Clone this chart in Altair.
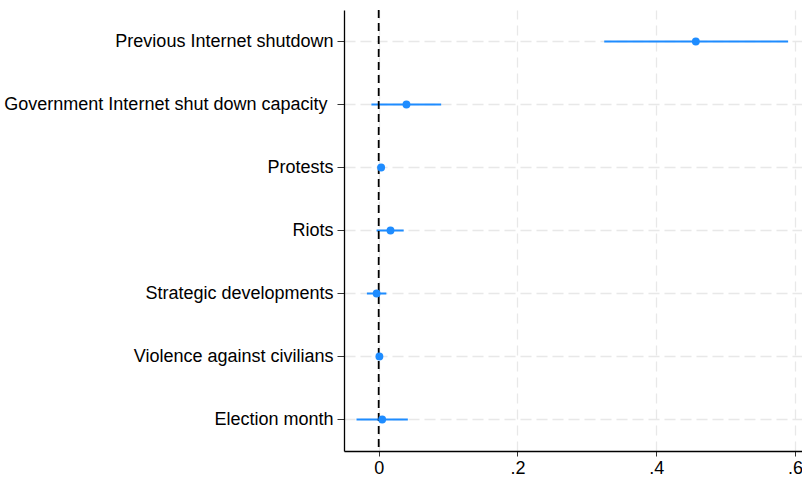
import altair as alt
import pandas as pd

# Coefficient estimates with 95% confidence intervals
labels = [
    "Previous Internet shutdown",
    "Government Internet shut down capacity",
    "Protests",
    "Riots",
    "Strategic developments",
    "Violence against civilians",
    "Election month",
]
estimates = [0.457, 0.040, 0.0035, 0.017, -0.003, 0.001, 0.005]
ci_low = [0.325, -0.0105, 0.0005, -0.003, -0.017, -0.002, -0.032]
ci_high = [0.590, 0.090, 0.0065, 0.036, 0.011, 0.004, 0.042]

df = pd.DataFrame({"label": labels, "est": estimates, "lo": ci_low, "hi": ci_high})
zero = pd.DataFrame({"x": [0.0]})

BLUE = "#1E8CFF"
FONT = "Liberation Sans"

x_scale = alt.Scale(domain=[-0.05, 0.61], nice=False, zero=False)
y_scale = alt.Scale(paddingInner=0, paddingOuter=0)

y_enc = alt.Y(
    "label:N",
    sort=None,
    scale=y_scale,
    axis=alt.Axis(
        title=None,
        labelFontSize=18,
        labelFont=FONT,
        labelColor="black",
        labelPadding={
            "condition": {"test": "datum.value == 'Government Internet shut down capacity'", "value": 10},
            "value": 4,
        },
        tickSize=7,
        tickColor="#333333",
        domainColor="black",
        domainWidth=1.3,
        grid=True,
        gridColor="#e8e8e8",
        gridDash=[11, 5],
        gridWidth=1.3,
        labelLimit=400,
    ),
)

x_axis = alt.Axis(
    title=None,
    values=[0, 0.2, 0.4, 0.6],
    labelExpr="datum.value == 0 ? '0' : replace(format(datum.value, '.1f'), '0.', '.')",
    labelFontSize=18,
    labelFont=FONT,
    labelColor="black",
    labelPadding=3,
    tickSize=5,
    tickColor="#333333",
    domainColor="black",
    domainWidth=1.3,
    grid=True,
    gridColor="#e8e8e8",
    gridDash=[10, 6],
    gridWidth=1.3,
)

ci = alt.Chart(df).mark_rule(color=BLUE, strokeWidth=2).encode(
    x=alt.X("lo:Q", scale=x_scale, axis=x_axis),
    x2="hi:Q",
    y=y_enc,
)

zero_line = alt.Chart(zero).mark_rule(
    color="black", strokeDash=[8, 5], strokeWidth=1.8
).encode(x=alt.X("x:Q", scale=x_scale))

points = alt.Chart(df).mark_circle(size=62, color=BLUE, opacity=1).encode(
    x=alt.X("est:Q", scale=x_scale),
    y=alt.Y("label:N", sort=None, scale=y_scale),
)

chart = (
    alt.layer(ci, zero_line, points)
    .properties(
        width=458,
        height=441,
        autosize=alt.AutoSizeParams(type="none"),
        padding={"left": 344, "top": 10, "right": 0, "bottom": 30},
        background="white",
    )
    .configure_view(stroke=None)
)

chart.save("out.html", embed_options={"renderer": "svg", "actions": False})
